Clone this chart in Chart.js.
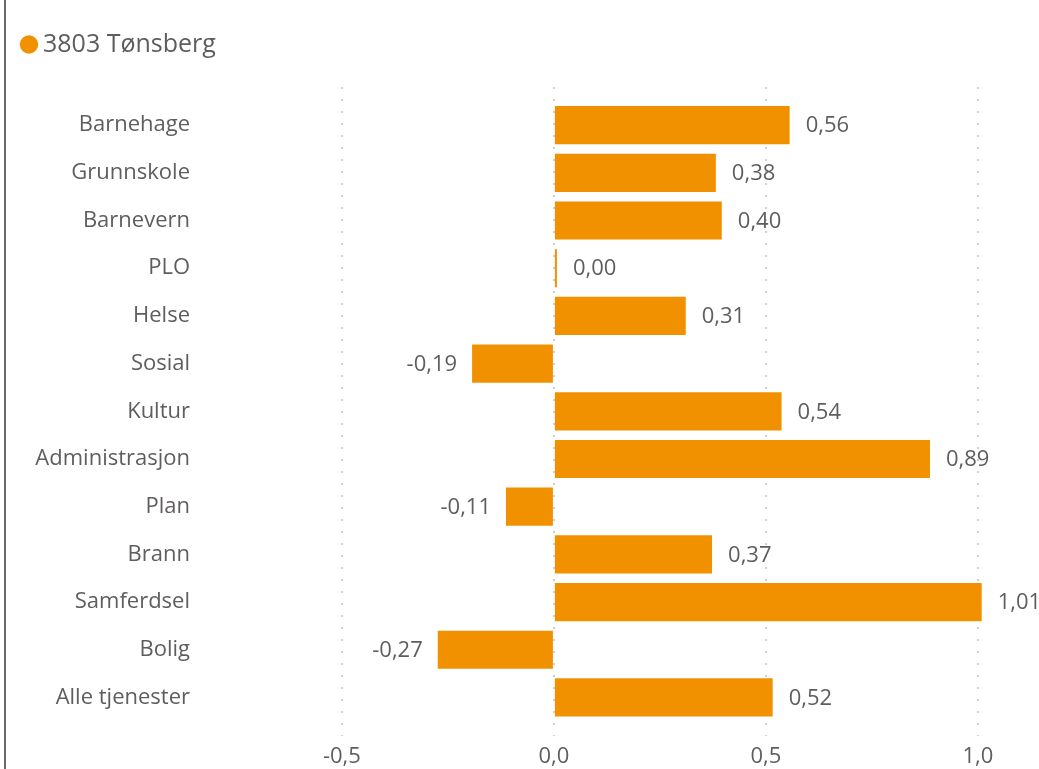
<!DOCTYPE html>
<html>
<head>
<meta charset="utf-8">
<script src="https://cdn.jsdelivr.net/npm/chart.js@4.4.1/dist/chart.umd.min.js"></script>
<style>
  html,body{margin:0;padding:0;background:#fff;}
  #wrap{position:relative;width:1039px;height:769px;overflow:hidden;}
  #edge{position:absolute;left:4px;top:0;width:2px;height:769px;background:#6a6a6a;}
  canvas{position:absolute;left:0;top:0;}
</style>
</head>
<body>
<div id="wrap">
  <canvas id="c" width="1039" height="778"></canvas>
  <div id="edge"></div>
</div>
<script>
const seriesName = '3803 Tønsberg';
const categories = ['Barnehage','Grunnskole','Barnevern','PLO','Helse','Sosial','Kultur','Administrasjon','Plan','Brann','Samferdsel','Bolig','Alle tjenester'];
const values = [0.556, 0.382, 0.396, 0.003, 0.311, -0.193, 0.537, 0.887, -0.113, 0.373, 1.009, -0.274, 0.516];
const xTicks = [-0.5, 0, 0.5, 1.0];

const barColor = '#F29100';
const textColor = '#605E5C';
const fontFamily = "'Open Sans', 'Noto Sans', sans-serif";

const fmt = v => v.toFixed(2).replace('.', ',');
const fmtTick = v => v.toFixed(1).replace('.', ',');

const valueLabels = {
  id: 'valueLabels',
  afterDatasetsDraw(chart) {
    const ctx = chart.ctx;
    const meta = chart.getDatasetMeta(0);
    ctx.save();
    ctx.font = "22px " + fontFamily;
    ctx.fillStyle = textColor;
    ctx.textBaseline = 'middle';
    meta.data.forEach((bar, i) => {
      const v = values[i];
      const txt = fmt(v);
      if (v >= 0) { ctx.textAlign = 'left'; ctx.fillText(txt, Math.max(bar.x, bar.base + 2) + 16, bar.y + 1); }
      else { ctx.textAlign = 'right'; ctx.fillText(txt, bar.x - 15, bar.y + 1); }
    });
    ctx.restore();
  }
};

const legendSpace = {
  id: 'legendSpace',
  beforeInit(chart) {
    const orig = chart.legend.fit;
    chart.legend.fit = function () { orig.call(this); this.height += 20; };
  }
};

const padLeft = 17.5;

new Chart(document.getElementById('c'), {
  type: 'bar',
  data: {
    datasets: [{
      label: seriesName,
      data: values.map((v, i) => ({ x: v, y: i })),
      backgroundColor: barColor,
      borderWidth: 0,
      barPercentage: 0.8,
      categoryPercentage: 1.0,
      minBarLength: 3
    }]
  },
  options: {
    indexAxis: 'y',
    responsive: false,
    animation: false,
    layout: { padding: { left: padLeft, right: 6, top: 22, bottom: 0 } },
    plugins: {
      tooltip: { enabled: false },
      legend: {
        display: true,
        position: 'top',
        align: 'start',
        labels: {
          usePointStyle: true,
          pointStyle: 'circle',
          boxWidth: 3,
          boxHeight: 13,
          color: textColor,
          font: { family: fontFamily, size: 25 },
          padding: 10
        }
      }
    },
    scales: {
      y: {
        type: 'linear',
        reverse: true,
        offset: false,
        min: -0.8,
        max: 12.8,
        afterBuildTicks(scale) { scale.ticks = categories.map((c, i) => ({ value: i })); },
        afterFit(scale) { scale.width = 202 - padLeft; },
        ticks: {
          autoSkip: false,
          color: textColor,
          padding: 12,
          font: { family: fontFamily, size: 22 },
          callback: v => categories[v]
        },
        grid: { display: false, drawTicks: false, offset: false },
        border: { display: false }
      },
      x: {
        type: 'linear',
        min: -0.83,
        max: 1.13,
        afterBuildTicks(scale) { scale.ticks = xTicks.map(v => ({ value: v })); },
        ticks: {
          color: textColor,
          padding: 8,
          font: { family: fontFamily, size: 22 },
          callback: v => fmtTick(v)
        },
        grid: { color: '#cdcdcd', lineWidth: 2, drawTicks: false },
        border: { display: false, dash: [2, 10] }
      }
    }
  },
  plugins: [valueLabels, legendSpace]
});
</script>
</body>
</html>
